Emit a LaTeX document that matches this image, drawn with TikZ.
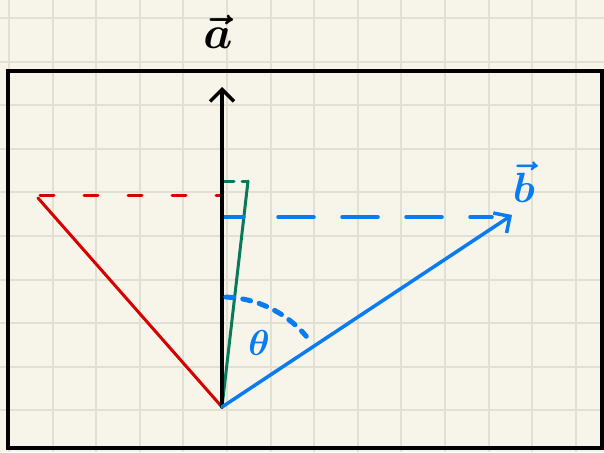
\documentclass[tikz,border=0pt]{standalone}
\usepackage{amsmath,amssymb,bm}
\usepackage{tikz}
\usetikzlibrary{arrows.meta}

\definecolor{paper}{HTML}{F7F5E9}
\definecolor{gridc}{HTML}{E2E0D3}
\definecolor{vecblue}{HTML}{0A7CF2}
\definecolor{vecred}{HTML}{D60000}
\definecolor{vecgreen}{HTML}{08795A}

\begin{document}
\begin{tikzpicture}[
  x=1pt, y=-1pt, line cap=round,
  barb/.style={-{Straight Barb[length=12pt, width=24pt, line width=3.5pt]}},
  gridln/.style={draw=gridc, line width=2pt, line cap=butt},
  veca/.style={draw=black, line width=3.5pt},
  vecb/.style={draw=vecblue, line width=3.5pt},
  projr/.style={draw=vecred, line width=3pt},
  projg/.style={draw=vecgreen, line width=3pt},
  lbl/.style={inner sep=0pt, font=\Huge, transform shape},
]
  % paper and grid
  \useasboundingbox (0,0) rectangle (604,452);
  \fill[paper] (0,0) rectangle (604,452);
  \foreach \k in {0,...,13} \draw[gridln] ({9+43.6*\k},0) -- ({9+43.6*\k},452);
  \foreach \k in {0,...,9} \draw[gridln] (0,{18+43.6*\k}) -- (604,{18+43.6*\k});
  \draw[line width=4pt, line cap=butt] (8,71) rectangle (602,448);

  % points
  \coordinate (O) at (222,407);
  \coordinate (A) at (222,87);
  \coordinate (B) at (512,215);
  \coordinate (R) at (38,198);
  \coordinate (G) at (248,181);

  % projections
  \draw[projr] (O) -- (R);
  \draw[projr, dash pattern=on 14pt off 30pt] (40,195) -- (222,195);
  \draw[projg] (O) -- (G);
  \draw[projg, dash pattern=on 10pt off 8pt] (224,181) -- (G);
  \draw[vecb] (224,217) -- (244,217);
  \draw[vecb, dash pattern=on 36pt off 28pt] (278,217) -- (492,217);

  % vectors
  \draw[veca, barb] (O) -- (A);
  \draw[vecb, barb] (O) -- (B);

  % angle
  \draw[vecb, line width=5pt, dash pattern=on 8pt off 9pt]
    ([shift={(-88:110)}]O) arc[start angle=-88, end angle=-40, radius=110];

  % labels
  \node[lbl, scale=1.85] (lblA) at (218,32) {$\bm{\vec{a}}$};
  \node[lbl, scale=1.7, text=vecblue] (lblB) at (524,182) {$\bm{\vec{b}}$};
  \node[lbl, scale=1.45, text=vecblue] (lblT) at (259,343) {$\bm{\theta}$};
\end{tikzpicture}
\end{document}
